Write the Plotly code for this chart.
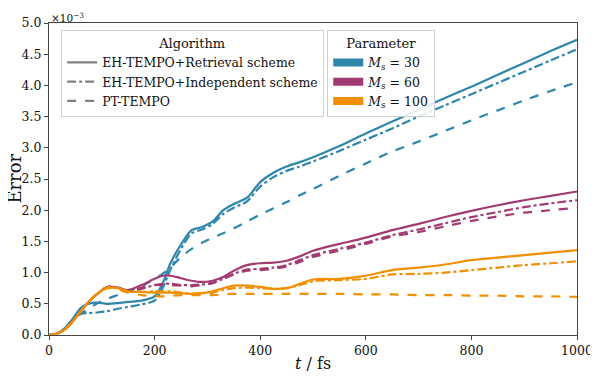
import plotly.graph_objects as go

# time grid (fs)
t = [0, 15, 30, 45, 60, 75, 90, 110, 130, 150, 175, 200, 215, 230, 250, 270, 290, 310, 330, 350,
     375, 400, 425, 450, 475, 500, 550, 600, 650, 700, 750, 800, 850, 900, 950, 1000]

# Error values in units of 1e-3
ms30_retrieval = [0, 0.02, 0.11, 0.26, 0.43, 0.50, 0.52, 0.50, 0.51, 0.53, 0.55, 0.62, 0.82, 1.15, 1.45, 1.68,
                  1.73, 1.82, 2.00, 2.10, 2.20, 2.45, 2.60, 2.70, 2.77, 2.85, 3.03, 3.23, 3.42, 3.61, 3.80, 3.98,
                  4.17, 4.36, 4.55, 4.73]
ms30_independent = [0, 0.02, 0.10, 0.24, 0.34, 0.35, 0.36, 0.38, 0.42, 0.45, 0.49, 0.55, 0.75, 1.05, 1.38, 1.63,
                    1.69, 1.78, 1.94, 2.04, 2.14, 2.38, 2.53, 2.63, 2.70, 2.78, 2.95, 3.13, 3.31, 3.50, 3.68, 3.86,
                    4.04, 4.22, 4.40, 4.58]
ms30_pt = [0, 0.02, 0.10, 0.24, 0.34, 0.42, 0.50, 0.58, 0.64, 0.70, 0.78, 0.90, 0.98, 1.08, 1.25, 1.38,
           1.48, 1.56, 1.63, 1.71, 1.82, 1.93, 2.03, 2.13, 2.24, 2.34, 2.55, 2.75, 2.94, 3.10, 3.27, 3.44,
           3.60, 3.76, 3.91, 4.05]

ms60_retrieval = [0, 0.02, 0.09, 0.22, 0.38, 0.53, 0.65, 0.77, 0.76, 0.72, 0.80, 0.90, 0.95, 0.95, 0.91, 0.87,
                  0.85, 0.87, 0.93, 1.03, 1.12, 1.15, 1.16, 1.19, 1.26, 1.35, 1.46, 1.56, 1.68, 1.78, 1.89, 1.99,
                  2.08, 2.16, 2.23, 2.30]
ms60_independent = [0, 0.02, 0.09, 0.22, 0.38, 0.53, 0.65, 0.77, 0.76, 0.70, 0.74, 0.80, 0.82, 0.82, 0.80, 0.80,
                    0.81, 0.84, 0.90, 0.98, 1.05, 1.06, 1.08, 1.12, 1.20, 1.28, 1.38, 1.48, 1.60, 1.69, 1.79, 1.89,
                    1.97, 2.05, 2.11, 2.16]
ms60_pt = [0, 0.02, 0.09, 0.22, 0.38, 0.53, 0.65, 0.77, 0.75, 0.70, 0.76, 0.80, 0.80, 0.80, 0.79, 0.78,
           0.80, 0.83, 0.90, 0.97, 1.03, 1.04, 1.06, 1.10, 1.17, 1.25, 1.35, 1.46, 1.58, 1.65, 1.74, 1.83,
           1.90, 1.96, 2.00, 2.04]

ms100_retrieval = [0, 0.02, 0.09, 0.22, 0.38, 0.53, 0.65, 0.76, 0.75, 0.70, 0.69, 0.68, 0.68, 0.68, 0.67, 0.66,
                   0.67, 0.70, 0.75, 0.79, 0.79, 0.77, 0.74, 0.75, 0.82, 0.89, 0.90, 0.95, 1.04, 1.08, 1.13, 1.20,
                   1.24, 1.28, 1.32, 1.36]
ms100_independent = [0, 0.02, 0.09, 0.22, 0.38, 0.53, 0.65, 0.76, 0.75, 0.70, 0.69, 0.70, 0.70, 0.70, 0.68, 0.66,
                     0.67, 0.68, 0.72, 0.75, 0.76, 0.75, 0.74, 0.75, 0.80, 0.86, 0.88, 0.90, 0.97, 0.98, 1.00, 1.04,
                     1.08, 1.12, 1.15, 1.18]
ms100_pt = [0, 0.02, 0.09, 0.22, 0.38, 0.53, 0.65, 0.75, 0.73, 0.68, 0.64, 0.62, 0.62, 0.63, 0.64, 0.64,
            0.64, 0.64, 0.65, 0.66, 0.66, 0.66, 0.66, 0.66, 0.66, 0.66, 0.66, 0.65, 0.65, 0.64, 0.64, 0.63,
            0.63, 0.62, 0.62, 0.61]

x_ticks = [0, 200, 400, 600, 800, 1000]
y_ticks = [0.0, 0.5, 1.0, 1.5, 2.0, 2.5, 3.0, 3.5, 4.0, 4.5, 5.0]

algorithms = ["EH-TEMPO+Retrieval scheme", "EH-TEMPO+Independent scheme", "PT-TEMPO"]
param_labels = ["<i>M</i><sub><i>s</i></sub> = 30", "<i>M</i><sub><i>s</i></sub> = 60",
                "<i>M</i><sub><i>s</i></sub> = 100"]
colors = ["#2E86AB", "#A23B72", "#F18F01"]
dashes = ["solid", "dashdot", "dash"]

series = [
    [ms30_retrieval, ms30_independent, ms30_pt],
    [ms60_retrieval, ms60_independent, ms60_pt],
    [ms100_retrieval, ms100_independent, ms100_pt],
]

FONT = "DejaVu Serif"
fig = go.Figure()

for ci, group in enumerate(series):
    for ai, ys in enumerate(group):
        fig.add_trace(go.Scatter(
            x=t, y=ys, mode="lines", showlegend=False,
            line=dict(color=colors[ci], dash=dashes[ai], width=2.2, shape="spline", smoothing=0.8),
        ))

# legend: algorithm (line styles)
for ai, name in enumerate(algorithms):
    fig.add_trace(go.Scatter(
        x=[None], y=[None], mode="lines", name=name, legend="legend",
        line=dict(color="#808080", dash=dashes[ai], width=2.2),
    ))
# legend: parameter (colour patches)
for ci, name in enumerate(param_labels):
    fig.add_trace(go.Scatter(
        x=[None], y=[None], mode="lines", name=name, legend="legend2",
        line=dict(color=colors[ci], width=8),
    ))

legend_common = dict(
    bgcolor="rgba(255,255,255,0.85)", bordercolor="#d0d0d0", borderwidth=1,
    font=dict(family=FONT, size=12.5, color="#111"),
    xanchor="left", yanchor="top", tracegroupgap=0,
)

# page has an 8px body margin, so the figure is sized 590x369 to fill the 598x377 window
fig.update_layout(
    width=590, height=369,
    margin=dict(l=41, r=21, t=15, b=42, autoexpand=False),
    paper_bgcolor="white", plot_bgcolor="white",
    font=dict(family=FONT, color="#111"),
    legend=dict(x=0.023, y=0.978, title=dict(text="Algorithm", side="top center",
                                              font=dict(family=FONT, size=13)), **legend_common),
    legend2=dict(x=0.527, y=0.978, title=dict(text="Parameter", side="top center",
                                               font=dict(family=FONT, size=13)), **legend_common),
    xaxis=dict(range=[0, 1000], tickvals=x_ticks, ticktext=[str(v) for v in x_ticks], automargin=False,
               showgrid=False, zeroline=False, showline=True, linecolor="#444", linewidth=1, mirror=True,
               ticks="outside", ticklen=4, tickcolor="#444",
               tickfont=dict(family=FONT, size=12.5, color="#111")),
    yaxis=dict(range=[0, 5], tickvals=y_ticks, ticktext=[f"{v:.1f}" for v in y_ticks], automargin=False,
               showgrid=False, zeroline=False, showline=True, linecolor="#444", linewidth=1, mirror=True,
               ticks="outside", ticklen=4, tickcolor="#444",
               tickfont=dict(family=FONT, size=12.5, color="#111")),
    annotations=[
        dict(text="×10<sup>−3</sup>", x=0, y=1, xref="paper", yref="paper",
             xanchor="left", yanchor="bottom", showarrow=False, yshift=-3,
             font=dict(family=FONT, size=10.5, color="#111")),
        dict(text="Error", x=-0.067, y=0.5, xref="paper", yref="paper", textangle=-90,
             xanchor="center", yanchor="middle", showarrow=False,
             font=dict(family=FONT, size=18, color="#111")),
        dict(text="<i>t</i> / fs", x=0.5, y=-0.09, xref="paper", yref="paper",
             xanchor="center", yanchor="middle", showarrow=False,
             font=dict(family=FONT, size=16, color="#111")),
    ],
)

fig.write_html("out.html")
